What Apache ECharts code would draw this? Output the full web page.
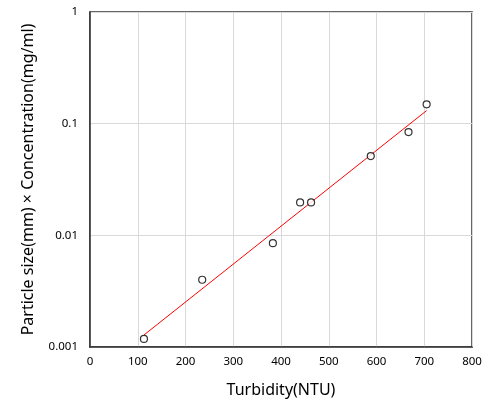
<!DOCTYPE html>
<html><head><meta charset="utf-8">
<script src="https://cdn.jsdelivr.net/npm/echarts@6/dist/echarts.min.js"></script>
<style>html,body{margin:0;padding:0;background:#fff}#c{width:495px;height:403px}</style>
</head><body><div id="c"></div>
<script>
const turbidity = [113, 235, 383, 440, 463, 588, 667, 705];
const product = [0.00118, 0.0040, 0.0085, 0.0197, 0.0197, 0.0513, 0.0840, 0.149];
const fitX = [113, 705];
const fitY = [0.00128, 0.131];
const yTicks = [0.001, 0.01, 0.1, 1];

const font = 'Noto Sans, sans-serif';
const chart = echarts.init(document.getElementById('c'));
chart.setOption({
  animation: false,
  grid: {left: 90, right: 23, top: 12, bottom: 51, show: true, borderColor: '#333', borderWidth: 1.5},
  xAxis: {
    type: 'value', min: 0, max: 800, interval: 100,
    name: 'Turbidity(NTU)', nameLocation: 'middle', nameGap: 35,
    nameTextStyle: {fontFamily: font, fontSize: 16, color: '#000'},
    axisLine: {show: true, lineStyle: {color: '#333', width: 1.5}},
    axisTick: {show: false},
    axisLabel: {fontFamily: font, fontSize: 11.5, color: '#000', margin: 9},
    splitLine: {show: true, lineStyle: {color: '#d9d9d9', width: 1}}
  },
  yAxis: {
    type: 'log', logBase: 10, min: 0.001, max: 1,
    name: 'Particle size(mm) × Concentration(mg/ml)', nameLocation: 'middle', nameGap: 54,
    nameTextStyle: {fontFamily: font, fontSize: 16, color: '#000'},
    axisLine: {show: true, lineStyle: {color: '#333', width: 1.5}},
    axisTick: {show: false},
    axisLabel: {fontFamily: font, fontSize: 11.5, color: '#000', margin: 12,
      formatter: v => { const t = yTicks.find(a => Math.abs(a - v) / a < 1e-6); return t !== undefined ? String(t) : ''; }},
    splitLine: {show: true, lineStyle: {color: '#d9d9d9', width: 1}}
  },
  series: [
    {type: 'line', data: fitX.map((x, i) => [x, fitY[i]]), symbol: 'none',
     lineStyle: {color: '#ff0000', width: 1}, z: 2},
    {type: 'scatter', data: turbidity.map((x, i) => [x, product[i]]), symbol: 'circle', symbolSize: 7,
     itemStyle: {color: '#fff', borderColor: '#000', borderWidth: 1.2}, z: 3}
  ]
});
</script></body></html>
